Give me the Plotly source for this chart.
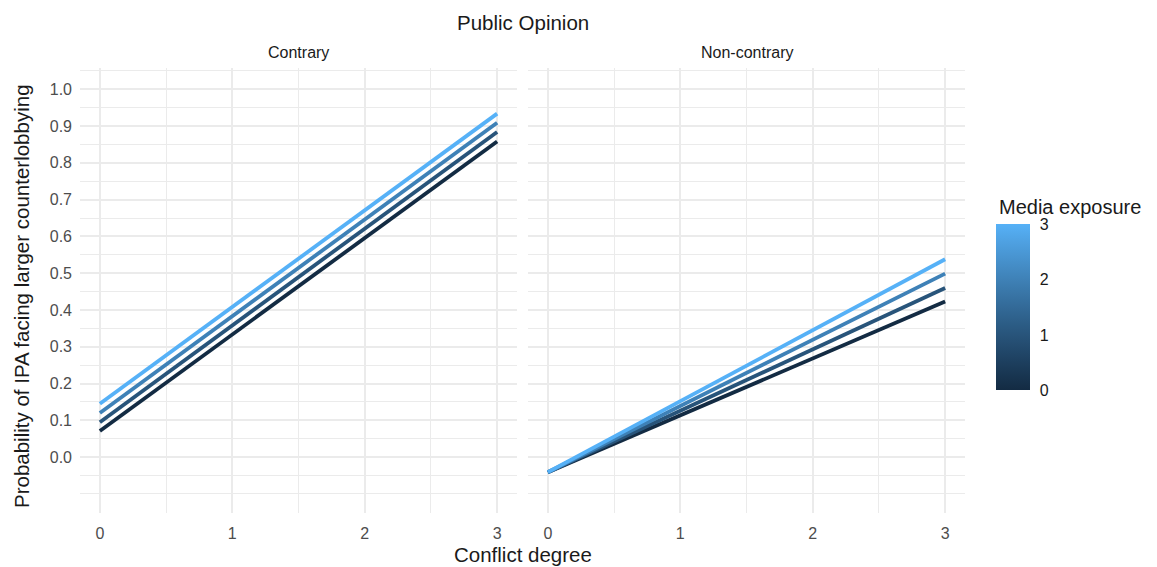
import plotly.graph_objects as go

# ---------------- data ----------------
conflict_degree = [0, 3]
media_exposure = [0, 1, 2, 3]
contrary_start = [0.071, 0.095, 0.120, 0.145]
contrary_end = [0.858, 0.884, 0.909, 0.934]
noncontrary_start = [-0.041, -0.041, -0.041, -0.041]
noncontrary_end = [0.423, 0.460, 0.499, 0.538]
panel_labels = ["Contrary", "Non-contrary"]
y_major = [0.0, 0.1, 0.2, 0.3, 0.4, 0.5, 0.6, 0.7, 0.8, 0.9, 1.0]
y_major_text = ["0.0", "0.1", "0.2", "0.3", "0.4", "0.5", "0.6", "0.7", "0.8", "0.9", "1.0"]
y_minor = [-0.1, -0.05, 0.05, 0.15, 0.25, 0.35, 0.45, 0.55, 0.65, 0.75, 0.85, 0.95, 1.05]
x_major = [0, 1, 2, 3]
x_minor = [0.5, 1.5, 2.5]

LOW, HIGH = "#132B43", "#56B1F7"

# ---------------- colour helpers (ggplot-style Lab gradient) ----------------
def _lin(c):
    return c / 12.92 if c <= 0.04045 else ((c + 0.055) / 1.055) ** 2.4

def _unlin(c):
    c = max(0.0, min(1.0, c))
    return 12.92 * c if c <= 0.0031308 else 1.055 * c ** (1 / 2.4) - 0.055

def hex_to_lab(h):
    r, g, b = [_lin(int(h[i:i + 2], 16) / 255) for i in (1, 3, 5)]
    X = (0.4124 * r + 0.3576 * g + 0.1805 * b) / 0.95047
    Y = (0.2126 * r + 0.7152 * g + 0.0722 * b) / 1.0
    Z = (0.0193 * r + 0.1192 * g + 0.9505 * b) / 1.08883
    f = lambda t: t ** (1 / 3) if t > 0.008856 else 7.787 * t + 16 / 116
    fx, fy, fz = f(X), f(Y), f(Z)
    return 116 * fy - 16, 500 * (fx - fy), 200 * (fy - fz)

def lab_to_hex(L, a, b):
    fy = (L + 16) / 116
    fx = fy + a / 500
    fz = fy - b / 200
    finv = lambda t: t ** 3 if t ** 3 > 0.008856 else (t - 16 / 116) / 7.787
    X, Y, Z = finv(fx) * 0.95047, finv(fy), finv(fz) * 1.08883
    r = 3.2406 * X - 1.5372 * Y - 0.4986 * Z
    g = -0.9689 * X + 1.8758 * Y + 0.0415 * Z
    bb = 0.0557 * X - 0.2040 * Y + 1.0570 * Z
    return "#%02X%02X%02X" % tuple(round(_unlin(c) * 255) for c in (r, g, bb))

L0, L1 = hex_to_lab(LOW), hex_to_lab(HIGH)

def grad(t):
    return lab_to_hex(*[p + (q - p) * t for p, q in zip(L0, L1)])

colorscale = [[i / 10, grad(i / 10)] for i in range(11)]

# ---------------- layout geometry ----------------
W, H = 1157, 567
px = lambda v: v / W
py = lambda v: 1 - v / H
FONT = "Liberation Sans, Arial, Helvetica, sans-serif"
GRID = "#EBEBEB"

# colour bar geometry (pixels)
CB_LEFT, CB_W, CB_TOP, CB_BOT = 996, 34, 224.3, 390.7

fig = go.Figure()

for i, m in enumerate(media_exposure):
    col = grad(m / 3)
    fig.add_trace(go.Scatter(x=conflict_degree, y=[contrary_start[i], contrary_end[i]],
                             mode="lines", line=dict(color=col, width=3.8),
                             xaxis="x", yaxis="y", showlegend=False, hoverinfo="skip"))
for i, m in enumerate(media_exposure):
    col = grad(m / 3)
    fig.add_trace(go.Scatter(x=conflict_degree, y=[noncontrary_start[i], noncontrary_end[i]],
                             mode="lines", line=dict(color=col, width=3.8),
                             xaxis="x2", yaxis="y2", showlegend=False, hoverinfo="skip"))

# colourbar carrier
fig.add_trace(go.Scatter(
    x=conflict_degree[:1], y=contrary_start[:1], mode="markers", xaxis="x", yaxis="y",
    showlegend=False, hoverinfo="skip",
    marker=dict(size=0.1, opacity=0, color=media_exposure[:1], cmin=0, cmax=3,
                colorscale=colorscale, showscale=True,
                colorbar=dict(
                    title=dict(text=""),
                    x=px(CB_LEFT), xanchor="left", xpad=0,
                    y=py((CB_TOP + CB_BOT) / 2), yanchor="middle", ypad=0,
                    len=CB_BOT - CB_TOP, lenmode="pixels", thickness=CB_W,
                    thicknessmode="pixels",
                    outlinewidth=0, tickmode="array", tickvals=media_exposure,
                    ticktext=[str(v) for v in media_exposure],
                    ticks="outside", ticklen=7, tickcolor="rgba(255,255,255,0)", tickwidth=1,
                    tickfont=dict(size=16, color="#1A1A1A", family=FONT),
                ))))

# white tick marks on both edges of the colour bar (ggplot style)
shapes = []
vmax = max(media_exposure)
for v in media_exposure:
    ypix = CB_BOT - (CB_BOT - CB_TOP) * v / vmax
    for x0, x1 in ((CB_LEFT, CB_LEFT + 6.5), (CB_LEFT + CB_W - 6.5, CB_LEFT + CB_W)):
        shapes.append(dict(type="line", xref="paper", yref="paper",
                           x0=px(x0), x1=px(x1), y0=py(ypix), y1=py(ypix),
                           line=dict(color="white", width=1.2), layer="above"))

xr = [-0.15, 3.15]
yr = [-0.152, 1.058]
ydom = [py(513), py(68)]

common_x = dict(range=xr, tickmode="array", tickvals=x_major, ticktext=[str(v) for v in x_major],
                showgrid=True, gridcolor=GRID, gridwidth=1.6, zeroline=False, showline=False,
                ticks="", tickfont=dict(size=16, color="#4D4D4D", family=FONT),
                ticklabelstandoff=9,
                minor=dict(tickmode="array", tickvals=x_minor, showgrid=True,
                           gridcolor=GRID, gridwidth=0.8, ticks=""),
                fixedrange=True)
common_y = dict(range=yr, tickmode="array", tickvals=y_major, ticktext=y_major_text,
                showgrid=True, gridcolor=GRID, gridwidth=1.6, zeroline=False, showline=False,
                ticks="", tickfont=dict(size=16, color="#4D4D4D", family=FONT),
                minor=dict(tickmode="array", tickvals=y_minor, showgrid=True,
                           gridcolor=GRID, gridwidth=0.8, ticks=""),
                fixedrange=True)

fig.update_layout(
    width=W, height=H,
    margin=dict(l=0, r=0, t=0, b=0),
    paper_bgcolor="white", plot_bgcolor="white",
    font=dict(family=FONT, color="#1A1A1A"),
    xaxis=dict(domain=[px(80), px(517)], anchor="y", **common_x),
    xaxis2=dict(domain=[px(528), px(965)], anchor="y2", **common_x),
    yaxis=dict(domain=ydom, anchor="x", showticklabels=True, ticklabelstandoff=7, **common_y),
    yaxis2=dict(domain=ydom, anchor="x2", showticklabels=False, **common_y),
    shapes=shapes,
    annotations=[
        dict(text="Public Opinion", x=px(522.5), y=py(22), xref="paper", yref="paper",
             xanchor="center", yanchor="middle", showarrow=False,
             font=dict(size=20.5, color="#1A1A1A", family=FONT)),
        dict(text=panel_labels[0], x=px(298.5), y=py(53), xref="paper", yref="paper",
             xanchor="center", yanchor="middle", showarrow=False,
             font=dict(size=16, color="#1A1A1A", family=FONT)),
        dict(text=panel_labels[1], x=px(746.5), y=py(53), xref="paper", yref="paper",
             xanchor="center", yanchor="middle", showarrow=False,
             font=dict(size=16, color="#1A1A1A", family=FONT)),
        dict(text="Conflict degree", x=px(522.5), y=py(554), xref="paper", yref="paper",
             xanchor="center", yanchor="middle", showarrow=False,
             font=dict(size=20.5, color="#1A1A1A", family=FONT)),
        dict(text="Probability of IPA facing larger counterlobbying", x=px(21), y=py(296),
             xref="paper", yref="paper", xanchor="center", yanchor="middle",
             showarrow=False, textangle=-90,
             font=dict(size=20.5, color="#1A1A1A", family=FONT)),
        dict(text="Media exposure", x=px(997), y=py(207), xref="paper", yref="paper",
             xanchor="left", yanchor="middle", showarrow=False,
             font=dict(size=20, color="#1A1A1A", family=FONT)),
    ],
)

fig.write_html("out.html")
